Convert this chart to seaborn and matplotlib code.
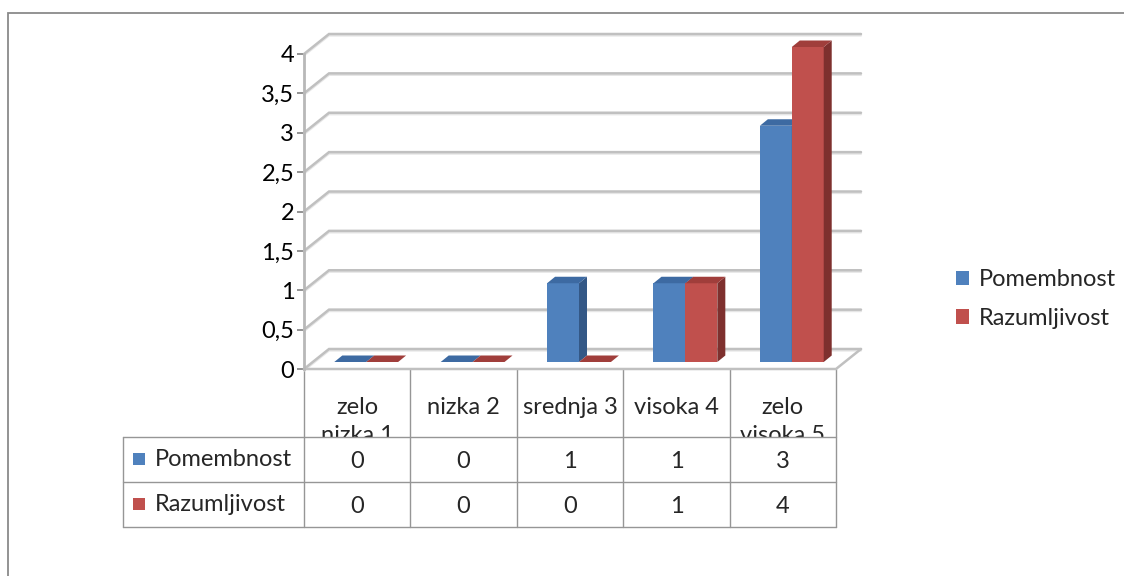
import numpy as np
import pandas as pd
import matplotlib
matplotlib.use("Agg")
import matplotlib.pyplot as plt
from matplotlib.patches import Polygon, Rectangle, Patch
import seaborn as sns

# ---- data -------------------------------------------------------------
categories = ["zelo\nnizka 1", "nizka 2", "srednja 3", "visoka 4", "zelo\nvisoka 5"]
series = ["Pomembnost", "Razumljivost"]
pomembnost = [0, 0, 1, 1, 3]
razumljivost = [0, 0, 0, 1, 4]
yticks = [0, 0.5, 1, 1.5, 2, 2.5, 3, 3.5, 4]
ytick_labels = ["0", "0,5", "1", "1,5", "2", "2,5", "3", "3,5", "4"]

# ---- colours ------------------------------------------------------------
front_col = ["#4F81BD", "#C0504D"]
top_col = ["#3D6AA2", "#A03E3B"]
side_col = ["#345886", "#7E302E"]
grid_col = "#C0C0C0"
table_col = "#969696"

W, H = 1124, 576
FS = 17

sns.set_theme(style="white")
plt.rcParams["font.family"] = ["Lato", "DejaVu Sans"]

fig = plt.figure(figsize=(W / 100, H / 100), dpi=100)

# full-figure overlay in pixel units (frame, table)
ov = fig.add_axes([0, 0, 1, 1])
ov.set_xlim(0, W)
ov.set_ylim(H, 0)
ov.axis("off")

# plot area: front plane of the 3-D box
floor_px, top_px, left_px, right_px = 369, 54, 304, 836
ax = fig.add_axes([left_px / W, (H - floor_px) / H,
                   (right_px - left_px) / W, (floor_px - top_px) / H])
ax.patch.set_visible(False)

df = pd.DataFrame({
    "kategorija": categories * 2,
    "serija": [series[0]] * len(categories) + [series[1]] * len(categories),
    "vrednost": pomembnost + razumljivost,
})

sns.barplot(data=df, x="kategorija", y="vrednost", hue="serija",
            order=categories, hue_order=series, palette=front_col,
            width=0.6, saturation=1, legend=False, ax=ax)

ax.set_xlim(-0.5, len(categories) - 0.5)
ax.set_ylim(0, 4)
ax.set_xlabel("")
ax.set_ylabel("")
ax.set_xticks([])
ax.set_yticks(yticks)
ax.set_yticklabels(ytick_labels)
ax.tick_params(axis="y", left=True, length=5, width=1.2, color="#808080",
               pad=2, labelsize=FS, labelcolor="black")
for s in ["top", "right", "bottom"]:
    ax.spines[s].set_visible(False)
ax.spines["left"].set_color("#B8B8B8")
ax.spines["left"].set_linewidth(2.0)

# pixel -> data scale for the perspective offsets
ppx = (right_px - left_px) / len(categories)
ppy = (floor_px - top_px) / 4.0
wall_dx, wall_dy = 25 / ppx, 20 / ppy      # back wall depth
bar_dx, bar_dy = 9 / ppx, 7 / ppy          # bars sit inside the box
dep_dx, dep_dy = 8 / ppx, 6.5 / ppy        # bar depth

x0, x1 = -0.5, len(categories) - 0.5
# back wall gridlines with their diagonal returns (soft shadow underneath)
for v in yticks:
    xs = [x0, x0 + wall_dx, x1 + wall_dx]
    ys = [v, v + wall_dy, v + wall_dy]
    ax.plot(xs, [y - 1.5 / ppy for y in ys], color="#E6E6E6", lw=1.6,
            clip_on=False, zorder=0.9, solid_joinstyle="miter")
    ax.plot(xs, ys, color=grid_col, lw=1.8, clip_on=False, zorder=1,
            solid_joinstyle="miter")
# floor front edge and right side
ax.plot([x0, x1, x1 + wall_dx], [0, 0, wall_dy], color=grid_col, lw=1.8,
        clip_on=False, zorder=1, solid_joinstyle="miter")

# extrude the seaborn bars into boxes
for j, cont in enumerate(ax.containers):
    for i, p in enumerate(cont.patches):
        h = p.get_height()
        bx = p.get_x() + bar_dx
        bw = p.get_width()
        by = bar_dy
        z = 10 + 4 * i + 2 * j
        p.set_x(bx)
        p.set_y(by)
        p.set_linewidth(0)
        p.set_clip_on(False)
        p.set_zorder(z)
        ty = by + h
        topf = Polygon([(bx, ty), (bx + bw, ty), (bx + bw + dep_dx, ty + dep_dy),
                        (bx + dep_dx, ty + dep_dy)], closed=True,
                       facecolor=top_col[j], edgecolor="none", clip_on=False,
                       zorder=z + 0.5)
        ax.add_patch(topf)
        if h > 0:
            sidef = Polygon([(bx + bw, by), (bx + bw, ty),
                             (bx + bw + dep_dx, ty + dep_dy),
                             (bx + bw + dep_dx, by + dep_dy)], closed=True,
                            facecolor=side_col[j], edgecolor="none",
                            clip_on=False, zorder=z + 0.4)
            ax.add_patch(sidef)

# ---- data table under the plot ------------------------------------------
edges = [ax.transData.transform((e, 0))[0]
         for e in np.arange(x0, x1 + 0.01, 1.0)]
centers = [(a + b) / 2 for a, b in zip(edges[:-1], edges[1:])]
floor_y = H - ax.transData.transform((0, 0))[1]
row_top, row_mid, row_bot = 437, 482, 527
tab_left = 123

for c, lab in zip(centers, categories):
    ov.text(c, 397, lab, ha="center", va="top", fontsize=FS,
            linespacing=1.42, zorder=1)
ov.add_patch(Rectangle((tab_left, row_top), edges[-1] - tab_left,
                       row_bot - row_top, facecolor="white",
                       edgecolor="none", zorder=2))
for e in edges:
    ov.plot([e, e], [floor_y, row_bot], color=table_col, lw=1.0, zorder=3)
ov.plot([tab_left, tab_left], [row_top, row_bot], color=table_col, lw=1.0,
        zorder=3)
for yy in (row_top, row_mid, row_bot):
    ov.plot([tab_left, edges[-1]], [yy, yy], color=table_col, lw=1.0, zorder=3)

for k, (name, vals) in enumerate(zip(series, [pomembnost, razumljivost])):
    yc = (row_top + row_mid) / 2 if k == 0 else (row_mid + row_bot) / 2
    ov.add_patch(Rectangle((133, yc - 7), 12, 12, facecolor=front_col[k],
                           edgecolor="none", zorder=4))
    ov.text(155, yc, name, ha="left", va="center", fontsize=FS, zorder=4)
    for c, v in zip(centers, vals):
        ov.text(c, yc + 2, f"{v:g}", ha="center", va="center", fontsize=FS,
                zorder=4)

# ---- legend ---------------------------------------------------------------
handles = [Patch(facecolor=front_col[k], edgecolor="none", label=series[k])
           for k in range(len(series))]
fig.legend(handles=handles, loc="center left",
           bbox_to_anchor=(956 / W, 1 - 299 / H), frameon=False, fontsize=FS,
           handlelength=0.55, handleheight=0.55, handletextpad=0.4,
           labelspacing=0.75, borderpad=0, borderaxespad=0)

# ---- chart frame ----------------------------------------------------------
ov.plot([8, 8, W], [H, 13, 13], color="#8A8A8A", lw=1.3, zorder=5,
        solid_joinstyle="miter")

fig.savefig("out.png", dpi=100)
